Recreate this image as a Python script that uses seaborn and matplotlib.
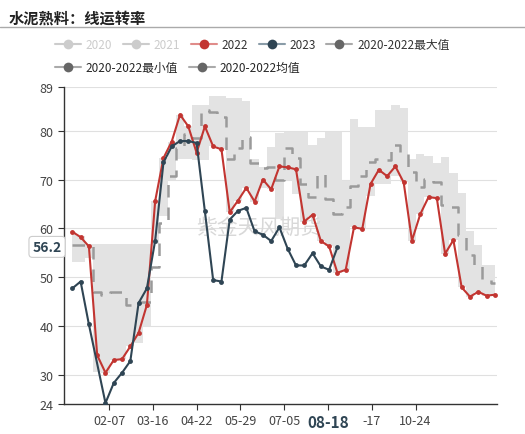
import numpy as np
import pandas as pd
import matplotlib
matplotlib.use("Agg")
import matplotlib.pyplot as plt
from matplotlib.lines import Line2D
import seaborn as sns

sns.set_style("white")
plt.rcParams['font.family'] = ['Noto Sans CJK SC', 'DejaVu Sans']

weeks = np.arange(52)
doy = 7 + 7 * weeks

v2022 = [59.3,58.2,56.3,34.0,30.4,33.0,33.2,35.8,38.6,44.3,65.6,74.4,77.8,83.3,80.9,75.5,80.9,76.8,76.2,63.3,
         65.7,68.3,65.5,70.0,68.0,72.7,72.5,72.1,61.4,62.8,57.4,56.3,50.9,51.5,60.2,59.9,69.1,72.0,70.7,72.7,
         69.4,57.5,62.9,66.4,66.2,54.8,57.6,47.9,46.0,47.0,46.2,46.4]
w2023 = [0,1,2] + list(range(4, 33))
v2023 = [47.7,49.1,40.3,24.2,28.3,30.4,32.8,44.7,47.7,57.5,73.5,76.8,77.9,77.9,77.5,63.5,49.4,49.1,61.8,63.6,
         64.2,59.4,58.7,57.4,60.2,55.8,52.4,52.4,54.9,52.2,51.5,56.1]
vmax = [59.3,58.5,56.8,56.8,56.8,56.8,56.8,56.8,56.8,56.8,
        65.6,74.4,77.8,83.3,81,85.2,85.2,87.2,87.2,86.8,86.8,86.2,74.2,72.5,76.6,79.6,79.7,79.7,79.7,77,
        78.6,79.7,79.7,69.8,82.4,80.8,80.8,84.2,84.2,85.2,84.6,74.3,75.3,74.9,73.3,74.6,71.4,67.2,59.4,56.5,52.4,52.4]
vmin = [53.2,53.2,54,30.6,30.4,33.0,33.2,35.8,36.6,40,
        56.8,62.6,70,74.2,74.2,74,74,76.8,76.2,63.3,65.7,68.3,65.5,68.3,68,62,70,67,61.4,62.6,
        57.4,56.3,50.9,51.5,60.2,59.9,66.6,69,69,70.7,69.4,57.5,62.9,66.4,66.2,54.8,57.6,47.9,46.0,47.0,46.2,46.4]
vmean = [56.5,56.5,56.5,47,46.3,47,47,44.3,44.9,44.9,52,61.1,70.7,76.4,79.4,78.5,84.2,83.9,82.9,74.3,76.4,78.8,73.4,72.3,72.6,
         70,76.5,74.5,69.1,66.4,71.2,66.0,63,64.4,68.6,70.8,73.5,74.3,74.1,77,75.7,71.6,68.5,70.2,69.5,64.8,64.4,58.6,54.5,52.4,49.7,48.7]
tick_pos = [38, 75, 112, 149, 186, 223, 260, 297]
tick_labels = ['02-07', '03-16', '04-22', '05-29', '07-05', '08-18', '-17', '10-24']

RED = '#c23531'
DARK = '#2f4554'

fig = plt.figure(figsize=(5.25, 4.35), dpi=100)
ax = fig.add_axes([0.122, 0.069, 0.825, 0.729])

x0 = np.concatenate([[doy[0] - 7], doy, [doy[-1] + 7]])
ax.fill_between(doy, vmin, vmax, step='mid', color='#e3e3e3', lw=0, zorder=1)
ax.plot(doy, vmean, drawstyle='steps-mid', color='#9a9a9a', lw=1.8, dashes=(5, 4), zorder=2)

d22 = pd.DataFrame({'x': doy, 'y': v2022})
d23 = pd.DataFrame({'x': [doy[i] for i in w2023], 'y': v2023})
sns.lineplot(data=d22, x='x', y='y', ax=ax, color=RED, lw=1.5, marker='o', markersize=3.5,
             markeredgewidth=0, zorder=4)
sns.lineplot(data=d23, x='x', y='y', ax=ax, color=DARK, lw=1.5, marker='o', markersize=3.5,
             markeredgewidth=0, zorder=5)

ax.set_xlim(0, 366)
ax.set_ylim(24, 89)
ax.set_yticks([24, 30, 40, 50, 60, 70, 80, 89])
ax.set_xticks(tick_pos)
ax.set_xticklabels(tick_labels)
ax.set_xlabel('')
ax.set_ylabel('')
for t in ax.get_xticklabels():
    t.set_color('#444444')
    t.set_fontsize(9)
bold = ax.get_xticklabels()[5]
bold.set_fontweight('bold')
bold.set_fontsize(11)
bold.set_color(DARK)
ax.tick_params(axis='y', labelsize=9, labelcolor='#444444', length=4, color='#333333', left=True)
ax.tick_params(axis='x', length=4, color='#333333', bottom=True)
for g in [30, 40, 50, 60, 70, 80, 89]:
    ax.axhline(g, color='#e0e0e0', lw=0.8, zorder=0)
for s in ['top', 'right']:
    ax.spines[s].set_visible(False)
for s in ['left', 'bottom']:
    ax.spines[s].set_color('#333333')
    ax.spines[s].set_linewidth(1)

ax.text(-2, 56.2, '56.2', transform=ax.transData, ha='right', va='center', fontsize=10,
        fontweight='bold', color=DARK,
        bbox=dict(boxstyle='round,pad=0.25', fc='white', ec='#cccccc', lw=0.8), zorder=10, clip_on=False)
ax.text(0.45, 0.56, '紫金天风期货', transform=ax.transAxes, ha='center', va='center', fontsize=15,
        color='#d8d8d8', zorder=3)

fig.text(0.017, 0.975, '水泥熟料：线运转率', ha='left', va='top', fontsize=11, fontweight='bold', color='#222222')
fig.add_artist(Line2D([0, 1], [0.935, 0.935], transform=fig.transFigure, color='#aaaaaa', lw=1))

def h(c, lc):
    return Line2D([], [], color=lc, lw=1.5, marker='o', markersize=7, markerfacecolor=c, markeredgewidth=0)

row1 = [h('#cccccc', '#cccccc'), h('#cccccc', '#cccccc'), h(RED, '#e08c8a'), h(DARK, '#8a9ca8'), h('#666666', '#aaaaaa')]
lab1 = ['2020', '2021', '2022', '2023', '2020-2022最大值']
row2 = [h('#666666', '#aaaaaa'), h('#666666', '#aaaaaa')]
lab2 = ['2020-2022最小值', '2020-2022均值']
l1 = fig.legend(row1, lab1, loc='upper left', bbox_to_anchor=(0.085, 0.935), ncol=5, frameon=False,
                fontsize=8.5, handlelength=2.2, columnspacing=0.9, handletextpad=0.4)
for i, t in enumerate(l1.get_texts()):
    t.set_color('#cccccc' if i < 2 else '#333333')
fig.legend(row2, lab2, loc='upper left', bbox_to_anchor=(0.085, 0.882), ncol=2, frameon=False,
           fontsize=8.5, handlelength=2.2, columnspacing=0.9, handletextpad=0.4)

fig.savefig('out.png', dpi=100)
